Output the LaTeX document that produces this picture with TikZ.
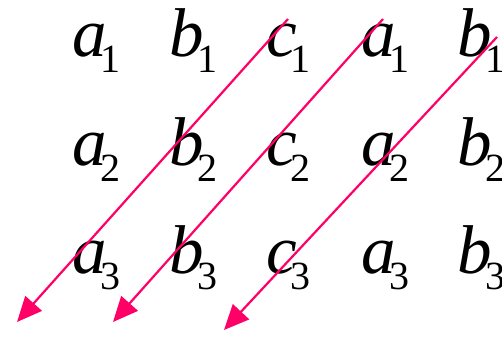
\documentclass[tikz,border=0pt]{standalone}
\usepackage{fontspec}
\setmainfont{Liberation Serif}
\usetikzlibrary{arrows.meta}

\definecolor{arrowpink}{RGB}{255,0,102}
\newcommand{\ent}[2]{{\itshape #1}\kern-6pt\raisebox{-16pt}{\fontsize{40}{40}\selectfont #2}}

\begin{document}
\begin{tikzpicture}[
        x=1pt, y=-1pt,
        elem/.style={inner sep=0pt, anchor=base west, font=\fontsize{69}{69}\selectfont},
        connector/.style={-{Triangle[length=25pt,width=22pt]}, line width=2.2pt, draw=arrowpink}
    ]
        \useasboundingbox (0,0) rectangle (502,339);

        % first row
        \node (a1) [elem] at (72,57) {\ent{a}{1}};
        \node (b1) [elem] at (169,57) {\ent{b}{1}};
        \node (c1) [elem] at (266,57) {\ent{c}{1}};
        \node (a1r) [elem] at (361,57) {\ent{a}{1}};
        \node (b1r) [elem] at (457,57) {\ent{b}{1}};

        % second row
        \node (a2) [elem] at (72,165) {\ent{a}{2}};
        \node (b2) [elem] at (169,165) {\ent{b}{2}};
        \node (c2) [elem] at (266,165) {\ent{c}{2}};
        \node (a2r) [elem] at (361,165) {\ent{a}{2}};
        \node (b2r) [elem] at (457,165) {\ent{b}{2}};

        % third row
        \node (a3) [elem] at (72,273) {\ent{a}{3}};
        \node (b3) [elem] at (169,273) {\ent{b}{3}};
        \node (c3) [elem] at (266,273) {\ent{c}{3}};
        \node (a3r) [elem] at (361,273) {\ent{a}{3}};
        \node (b3r) [elem] at (457,273) {\ent{b}{3}};

        % diagonals
        \coordinate (s1) at (288,19);
        \coordinate (e1) at (17,322);
        \coordinate (s2) at (383,19);
        \coordinate (e2) at (113,322);
        \coordinate (s3) at (497,37);
        \coordinate (e3) at (224,330);

        \draw [connector] (s1) -- (e1);
        \draw [connector] (s2) -- (e2);
        \draw [connector] (s3) -- (e3);
    \end{tikzpicture}
\end{document}
